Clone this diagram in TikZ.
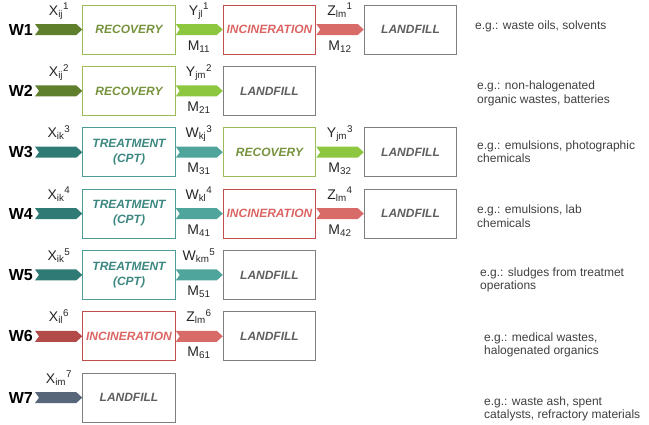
\documentclass[tikz,border=0pt]{standalone}
\usepackage{fontspec}
\setmainfont{Liberation Sans}
\usetikzlibrary{calc}
\definecolor{recB}{HTML}{9BBB59}
\definecolor{recT}{HTML}{76923C}
\definecolor{trtB}{HTML}{4E9C96}
\definecolor{trtT}{HTML}{3B8780}
\definecolor{incB}{HTML}{C0504D}
\definecolor{incT}{HTML}{DB6462}
\definecolor{lanB}{HTML}{7F7F7F}
\definecolor{lanT}{HTML}{5F5F5F}
\definecolor{inGreen}{HTML}{5F7F2C}
\definecolor{ltGreen}{HTML}{8DC63F}
\definecolor{inTeal}{HTML}{2F7A74}
\definecolor{ltTeal}{HTML}{4FA59B}
\definecolor{inRed}{HTML}{B14A48}
\definecolor{ltRed}{HTML}{D86B67}
\definecolor{slate}{HTML}{58667A}
\definecolor{noteC}{HTML}{3F3F3F}
\tikzset{
  box/.style={draw, line width=1pt, minimum width=92.5pt, minimum height=49pt,
    inner sep=0pt, align=center, font=\fontsize{12}{15}\selectfont\bfseries\itshape},
  recov/.style={box, draw=recB, text=recT},
  treat/.style={box, draw=trtB, text=trtT},
  incin/.style={box, draw=incB, text=incT},
  landf/.style={box, draw=lanB, text=lanT},
  wlab/.style={font=\fontsize{16}{16}\selectfont\bfseries, anchor=east, inner xsep=2pt, inner ysep=0pt},
  flowlab/.style={font=\fontsize{14}{16}\selectfont, anchor=base, inner sep=0pt, text=black!85},
  note/.style={anchor=west, align=left, font=\fontsize{12}{13.5}\selectfont, text=noteC, inner sep=0pt},
  chev/.style={to path={let \p1=(\tikztostart), \p2=(\tikztotarget) in
    (\x1,\y1-5.5pt) -- (\x2-6pt,\y1-5.5pt) -- (\x2,\y1) -- (\x2-6pt,\y1+5.5pt)
    -- (\x1,\y1+5.5pt) -- (\x1+4pt,\y1) -- cycle}}
}
\begin{document}
\begin{tikzpicture}[x=1pt,y=-1pt]
\useasboundingbox (0,0) rectangle (649,424);

% ---- W1 ----
\node[wlab] (w1) at (35,29.5) {W1};
\node[recov] (b11) at (129,29.5) {RECOVERY};
\node[incin] (b12) at (269.5,29.5) {INCINERATION};
\node[landf] (b13) at (410.5,29.5) {LANDFILL};
\fill[inGreen] (w1.east) to[chev] (b11.west);
\fill[ltGreen] (b11.east) to[chev] (b12.west);
\fill[ltRed] (b12.east) to[chev] (b13.west);
\node[flowlab] (x1) at (59,15) {X\textsubscript{ij}\textsuperscript{1}};
\node[flowlab] (y1) at (199,15) {Y\textsubscript{jl}\textsuperscript{1}};
\node[flowlab] (m11) at (199,50) {M\textsubscript{11}};
\node[flowlab] (z1) at (340,15) {Z\textsubscript{lm}\textsuperscript{1}};
\node[flowlab] (m12) at (340,50) {M\textsubscript{12}};
\node[note] (n1) at (475,26) {e.g.: waste oils, solvents};

% ---- W2 ----
\node[wlab] (w2) at (35,90.9) {W2};
\node[recov] (b21) at (129,90.9) {RECOVERY};
\node[landf] (b22) at (269.5,90.9) {LANDFILL};
\fill[inGreen] (w2.east) to[chev] (b21.west);
\fill[ltGreen] (b21.east) to[chev] (b22.west);
\node[flowlab] (x2) at (59,76.4) {X\textsubscript{ij}\textsuperscript{2}};
\node[flowlab] (y2) at (199,76.4) {Y\textsubscript{jm}\textsuperscript{2}};
\node[flowlab] (m21) at (199,111.4) {M\textsubscript{21}};
\node[note] (n2) at (477,93.5) {e.g.: non-halogenated\\organic wastes, batteries};

% ---- W3 ----
\node[wlab] (w3) at (35,152.2) {W3};
\node[treat] (b31) at (129,152.2) {TREATMENT\\(CPT)};
\node[recov] (b32) at (269.5,152.2) {RECOVERY};
\node[landf] (b33) at (410.5,152.2) {LANDFILL};
\fill[inTeal] (w3.east) to[chev] (b31.west);
\fill[ltTeal] (b31.east) to[chev] (b32.west);
\fill[ltGreen] (b32.east) to[chev] (b33.west);
\node[flowlab] (x3) at (59,137.7) {X\textsubscript{ik}\textsuperscript{3}};
\node[flowlab] (wf3) at (199,137.7) {W\textsubscript{kj}\textsuperscript{3}};
\node[flowlab] (m31) at (199,172.7) {M\textsubscript{31}};
\node[flowlab] (y3) at (340,137.7) {Y\textsubscript{jm}\textsuperscript{3}};
\node[flowlab] (m32) at (340,172.7) {M\textsubscript{32}};
\node[note] (n3) at (477,151.5) {e.g.: emulsions, photographic\\chemicals};

% ---- W4 ----
\node[wlab] (w4) at (35,213.6) {W4};
\node[treat] (b41) at (129,213.6) {TREATMENT\\(CPT)};
\node[incin] (b42) at (269.5,213.6) {INCINERATION};
\node[landf] (b43) at (410.5,213.6) {LANDFILL};
\fill[inTeal] (w4.east) to[chev] (b41.west);
\fill[ltTeal] (b41.east) to[chev] (b42.west);
\fill[ltRed] (b42.east) to[chev] (b43.west);
\node[flowlab] (x4) at (59,199.1) {X\textsubscript{ik}\textsuperscript{4}};
\node[flowlab] (wf4) at (199,199.1) {W\textsubscript{kl}\textsuperscript{4}};
\node[flowlab] (m41) at (199,234.1) {M\textsubscript{41}};
\node[flowlab] (z4) at (340,199.1) {Z\textsubscript{lm}\textsuperscript{4}};
\node[flowlab] (m42) at (340,234.1) {M\textsubscript{42}};
\node[note] (n4) at (477,216) {e.g.: emulsions, lab\\chemicals};

% ---- W5 ----
\node[wlab] (w5) at (35,274.9) {W5};
\node[treat] (b51) at (129,274.9) {TREATMENT\\(CPT)};
\node[landf] (b52) at (269.5,274.9) {LANDFILL};
\fill[inTeal] (w5.east) to[chev] (b51.west);
\fill[ltTeal] (b51.east) to[chev] (b52.west);
\node[flowlab] (x5) at (59,260.4) {X\textsubscript{ik}\textsuperscript{5}};
\node[flowlab] (wf5) at (199,260.4) {W\textsubscript{km}\textsuperscript{5}};
\node[flowlab] (m51) at (199,295.4) {M\textsubscript{51}};
\node[note] (n5) at (480,280) {e.g.: sludges from treatmet\\operations};

% ---- W6 ----
\node[wlab] (w6) at (35,336.3) {W6};
\node[incin] (b61) at (129,336.3) {INCINERATION};
\node[landf] (b62) at (269.5,336.3) {LANDFILL};
\fill[inRed] (w6.east) to[chev] (b61.west);
\fill[ltRed] (b61.east) to[chev] (b62.west);
\node[flowlab] (x6) at (59,321.8) {X\textsubscript{il}\textsuperscript{6}};
\node[flowlab] (z6) at (199,321.8) {Z\textsubscript{lm}\textsuperscript{6}};
\node[flowlab] (m61) at (199,356.8) {M\textsubscript{61}};
\node[note] (n6) at (484,345) {e.g.: medical wastes,\\halogenated organics};

% ---- W7 ----
\node[wlab] (w7) at (35,397.6) {W7};
\node[landf] (b71) at (129,397.6) {LANDFILL};
\fill[slate] (w7.east) to[chev] (b71.west);
\node[flowlab] (x7) at (59,383.1) {X\textsubscript{im}\textsuperscript{7}};
\node[note] (n7) at (484,409) {e.g.: waste ash, spent\\catalysts, refractory materials};
\end{tikzpicture}
\end{document}
